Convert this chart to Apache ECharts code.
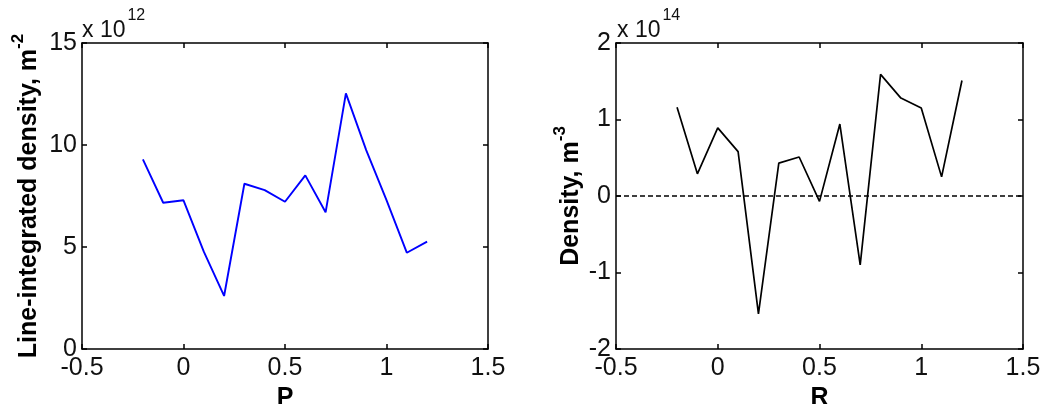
<!DOCTYPE html>
<html>
<head>
<meta charset="utf-8">
<script src="https://cdn.jsdelivr.net/npm/echarts@6/dist/echarts.min.js"></script>
<style>
html,body{margin:0;padding:0;background:#fff;}
#c{width:1050px;height:404px;}
</style>
</head>
<body>
<div id="c"></div>
<script>
// Positions (shared x grid for both panels)
const positions = [-0.2,-0.1,0,0.1,0.2,0.3,0.4,0.5,0.6,0.7,0.8,0.9,1.0,1.1,1.2];
// Line-integrated density, units of 1e12 m^-2
const lineDensity = [9.3,7.17,7.29,4.77,2.6,8.1,7.79,7.22,8.51,6.7,12.53,9.75,7.3,4.72,5.26];
// Density, units of 1e14 m^-3
const density = [1.16,0.29,0.89,0.58,-1.54,0.43,0.51,-0.07,0.94,-0.90,1.59,1.28,1.15,0.25,1.51];
const xTicks = [-0.5, 1.5, 0.5];     // min, max, interval
const yTicksLeft = [0, 15, 5];
const yTicksRight = [-2, 2, 1];
const xNames = ['P', 'R'];
const yNamesLeft = ['Line-integrated density, m', '-2'];
const yNamesRight = ['Density, m', '-3'];
const exponents = ['12', '14'];

const FONT = '"Liberation Sans", Arial, sans-serif';
const chart = echarts.init(document.getElementById('c'), null, {renderer: 'canvas'});

function pairs(xs, ys){ return xs.map((x,i)=>[x, ys[i]]); }

const axisLineStyle = {show:true, onZero:false, lineStyle:{color:'#000', width:1.5}};
const tickStyle = {show:true, inside:true, length:5, lineStyle:{color:'#000', width:1.5}};
const labelStyle = {color:'#111', fontSize:25, fontFamily:FONT};

function xAxes(gridIndex, name){
  return [
    {type:'value', gridIndex, min:xTicks[0], max:xTicks[1], interval:xTicks[2], position:'bottom',
     axisLine:axisLineStyle, axisTick:tickStyle, splitLine:{show:false},
     axisLabel:Object.assign({margin:7}, labelStyle),
     name, nameLocation:'middle', nameGap:28,
     nameTextStyle:{fontSize:25, fontWeight:'bold', fontFamily:FONT, color:'#000'}},
    {type:'value', gridIndex, min:xTicks[0], max:xTicks[1], interval:xTicks[2], position:'top',
     axisLine:axisLineStyle, axisTick:tickStyle, splitLine:{show:false}, axisLabel:{show:false}}
  ];
}
function yAxes(gridIndex, ticks, nm, gap){
  return [
    {type:'value', gridIndex, min:ticks[0], max:ticks[1], interval:ticks[2], position:'left',
     axisLine:axisLineStyle, axisTick:tickStyle, splitLine:{show:false},
     axisLabel:Object.assign({margin:5}, labelStyle),
     name:'{b|' + nm[0] + '}{s|' + nm[1] + '}', nameLocation:'middle', nameGap:gap, nameRotate:90,
     nameTextStyle:{rich:{
       b:{fontSize:25, fontWeight:'bold', fontFamily:FONT, color:'#000', lineHeight:32, verticalAlign:'bottom'},
       s:{fontSize:17, fontWeight:'bold', fontFamily:FONT, color:'#000', lineHeight:32, verticalAlign:'top'}
     }}},
    {type:'value', gridIndex, min:ticks[0], max:ticks[1], interval:ticks[2], position:'right',
     axisLine:axisLineStyle, axisTick:tickStyle, splitLine:{show:false}, axisLabel:{show:false}}
  ];
}

const expRich = {
  a:{fontSize:23, fontFamily:FONT, fill:'#111', lineHeight:34, verticalAlign:'bottom'},
  s:{fontSize:16, fontFamily:FONT, fill:'#111', lineHeight:34, verticalAlign:'top', padding:[0,0,0,2]}
};

const option = {
  animation:false,
  backgroundColor:'#fff',
  grid:[
    {left:82, right:562, top:43, bottom:55, containLabel:false, outerBoundsMode:'none'},
    {left:616, right:27, top:43, bottom:55, containLabel:false, outerBoundsMode:'none'}
  ],
  xAxis:[...xAxes(0, xNames[0]), ...xAxes(1, xNames[1])],
  yAxis:[...yAxes(0, yTicksLeft, yNamesLeft, 40), ...yAxes(1, yTicksRight, yNamesRight, 32)],
  series:[
    {type:'line', xAxisIndex:0, yAxisIndex:0, data:pairs(positions, lineDensity),
     showSymbol:false, symbol:'none', lineStyle:{color:'#0000ff', width:1.9}},
    {type:'line', xAxisIndex:2, yAxisIndex:2, data:pairs(positions, density),
     showSymbol:false, symbol:'none', lineStyle:{color:'#000', width:1.7},
     markLine:{silent:true, symbol:'none', label:{show:false},
       lineStyle:{color:'#000', width:1.5, type:[5,3]}, data:[{yAxis:0}]}}
  ],
  graphic:[
    {type:'text', left:82, top:8, style:{text:'{a|x 10}{s|' + exponents[0] + '}', rich:expRich}},
    {type:'text', left:617, top:8, style:{text:'{a|x 10}{s|' + exponents[1] + '}', rich:expRich}}
  ]
};
chart.setOption(option);
</script>
</body>
</html>
